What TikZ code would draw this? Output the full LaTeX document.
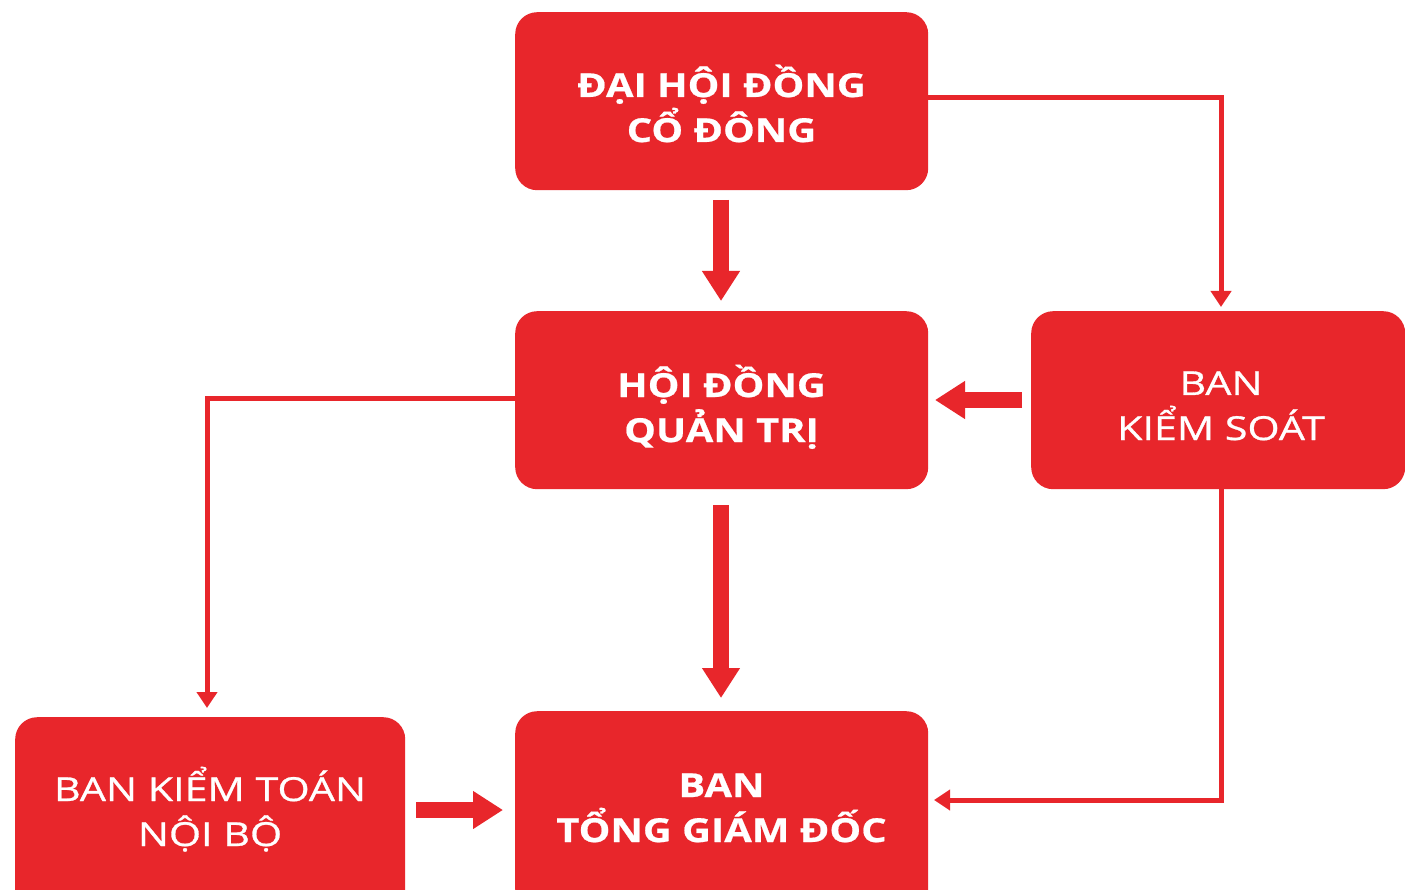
\documentclass[tikz,border=0pt]{standalone}
\usepackage{fontspec}
\setmainfont{Open Sans}
\newfontfamily\fbold{Open Sans}[FakeStretch=1.21, FakeBold=0.6]
\newfontfamily\freg{Open Sans}[FakeStretch=1.25, FakeBold=0.9]
\usetikzlibrary{arrows.meta}
\definecolor{brand}{HTML}{E8262B}
\tikzset{
  box/.style={fill=brand, draw=none, rounded corners=22pt, anchor=north west, inner sep=0pt},
  lbl/.style={text=white, anchor=base, inner sep=0pt, font=\fontsize{33}{40}\fbold\bfseries},
  lblr/.style={text=white, anchor=base, inner sep=0pt, font=\fontsize{33}{40}\freg},
  thick arrow/.style={draw=brand, line width=16pt, -{Triangle[width=36pt,length=30pt]}},
  thin arrow/.style={draw=brand, line width=5pt, -{Triangle[width=20pt,length=16pt]}},
}
\begin{document}
\begin{tikzpicture}[x=1pt,y=-1pt]
\useasboundingbox (0,0) rectangle (1405,890);
\clip (0,0) rectangle (1405,890);
\fill[white] (0,0) rectangle (1405,890);
% boxes
\node[box, minimum width=413pt, minimum height=178pt] (dhcd) at (515,12) {};
\node[box, minimum width=413pt, minimum height=178pt] (hdqt) at (515,311) {};
\node[box, minimum width=374pt, minimum height=178pt] (bks) at (1031,311) {};
\node[box, minimum width=390pt, minimum height=200pt] (bktnb) at (15,717) {};
\node[box, minimum width=413pt, minimum height=200pt] (btgd) at (515,711) {};
% labels
\node[lbl] (t1) at (721.5,97) {ĐẠI HỘI ĐỒNG};
\node[lbl] (t2) at (721.5,142) {CỔ ĐÔNG};
\node[lbl] (m1) at (721.5,397) {HỘI ĐỒNG};
\node[lbl] (m2) at (721.5,442) {QUẢN TRỊ};
\node[lblr] (r1) at (1221,395) {BAN};
\node[lblr] (r2) at (1221,440) {KIỂM SOÁT};
\node[lblr] (l1) at (210,801) {BAN KIỂM TOÁN};
\node[lblr] (l2) at (210,846) {NỘI BỘ};
\node[lbl] (b1) at (721.5,797) {BAN};
\node[lbl] (b2) at (721.5,842) {TỔNG GIÁM ĐỐC};
% anchor coordinates for connectors
\coordinate (a1s) at (721,200); \coordinate (a1e) at (721,301);
\coordinate (a2s) at (721,505); \coordinate (a2e) at (721,698);
\coordinate (a3s) at (1022,400); \coordinate (a3e) at (935,400);
\coordinate (a4s) at (416,810); \coordinate (a4e) at (503,810);
\coordinate (c1s) at (928,98); \coordinate (c1e) at (1221,307);
\coordinate (c2s) at (515,398); \coordinate (c2e) at (207,708);
\coordinate (c3s) at (1221,489); \coordinate (c3e) at (934,800);
% thick arrows
\draw[thick arrow] (a1s) -- (a1e);
\draw[thick arrow] (a2s) -- (a2e);
\draw[thick arrow] (a3s) -- (a3e);
\draw[thick arrow] (a4s) -- (a4e);
% thin connectors
\draw[thin arrow] (c1s) -| (c1e);
\draw[thin arrow] (c2s) -| (c2e);
\draw[thin arrow] (c3s) |- (c3e);
\end{tikzpicture}
\end{document}
